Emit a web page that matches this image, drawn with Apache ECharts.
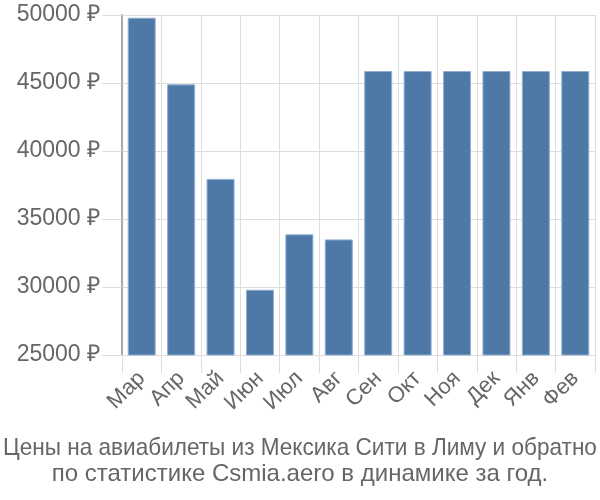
<!DOCTYPE html>
<html><head><meta charset="utf-8">
<script src="https://cdn.jsdelivr.net/npm/echarts@6/dist/echarts.min.js"></script>
<style>html,body{margin:0;padding:0;background:#fff}#c{width:600px;height:500px}</style>
</head><body><div id="c"></div>
<script>
const categories = ['Мар','Апр','Май','Июн','Июл','Авг','Сен','Окт','Ноя','Дек','Янв','Фев'];
const prices = [49800, 44900, 37950, 29800, 33870, 33500, 45880, 45880, 45880, 45880, 45880, 45880];
const titleLines = ['Цены на авиабилеты из Мексика Сити в Лиму и обратно', 'по статистике Csmia.aero в динамике за год.'];
const yMin = 25000, yMax = 50000, yStep = 5000;

const chart = echarts.init(document.getElementById('c'), null, {renderer:'canvas'});
const titleFont = {fontFamily:'Liberation Sans', fontSize:24, fill:'#666', align:'center', verticalAlign:'middle'};
chart.setOption({
  animation:false,
  graphic:[
    {type:'text', x:300, y:448, scaleX:0.94, style:Object.assign({text:titleLines[0]}, titleFont)},
    {type:'text', x:300, y:474, style:Object.assign({text:titleLines[1]}, titleFont)}
  ],
  grid:{left:122, right:5, top:15, bottom:145},
  xAxis:{type:'category', data:categories,
    axisLine:{lineStyle:{color:'#ddd'}},
    axisTick:{show:true, length:18, lineStyle:{color:'#ddd'}},
    splitLine:{show:true, lineStyle:{color:'#ddd'}},
    axisLabel:{rotate:45, fontFamily:'Liberation Sans', fontSize:22, color:'#666', margin:20, interval:0}},
  yAxis:{type:'value', min:yMin, max:yMax, interval:yStep,
    axisLine:{show:true, lineStyle:{color:'#aaa', width:2}},
    axisTick:{show:true, length:20, lineStyle:{color:'#ddd'}},
    splitLine:{lineStyle:{color:'#ddd'}},
    axisLabel:{formatter:v=>v+' ₽', fontFamily:'Liberation Sans', fontSize:23, color:'#666', margin:22}},
  series:[{type:'bar', data:prices, barCategoryGap:'29%',
    itemStyle:{color:'#4e79a7', borderColor:'#8fb0d3', borderWidth:1}}]
});
</script></body></html>
